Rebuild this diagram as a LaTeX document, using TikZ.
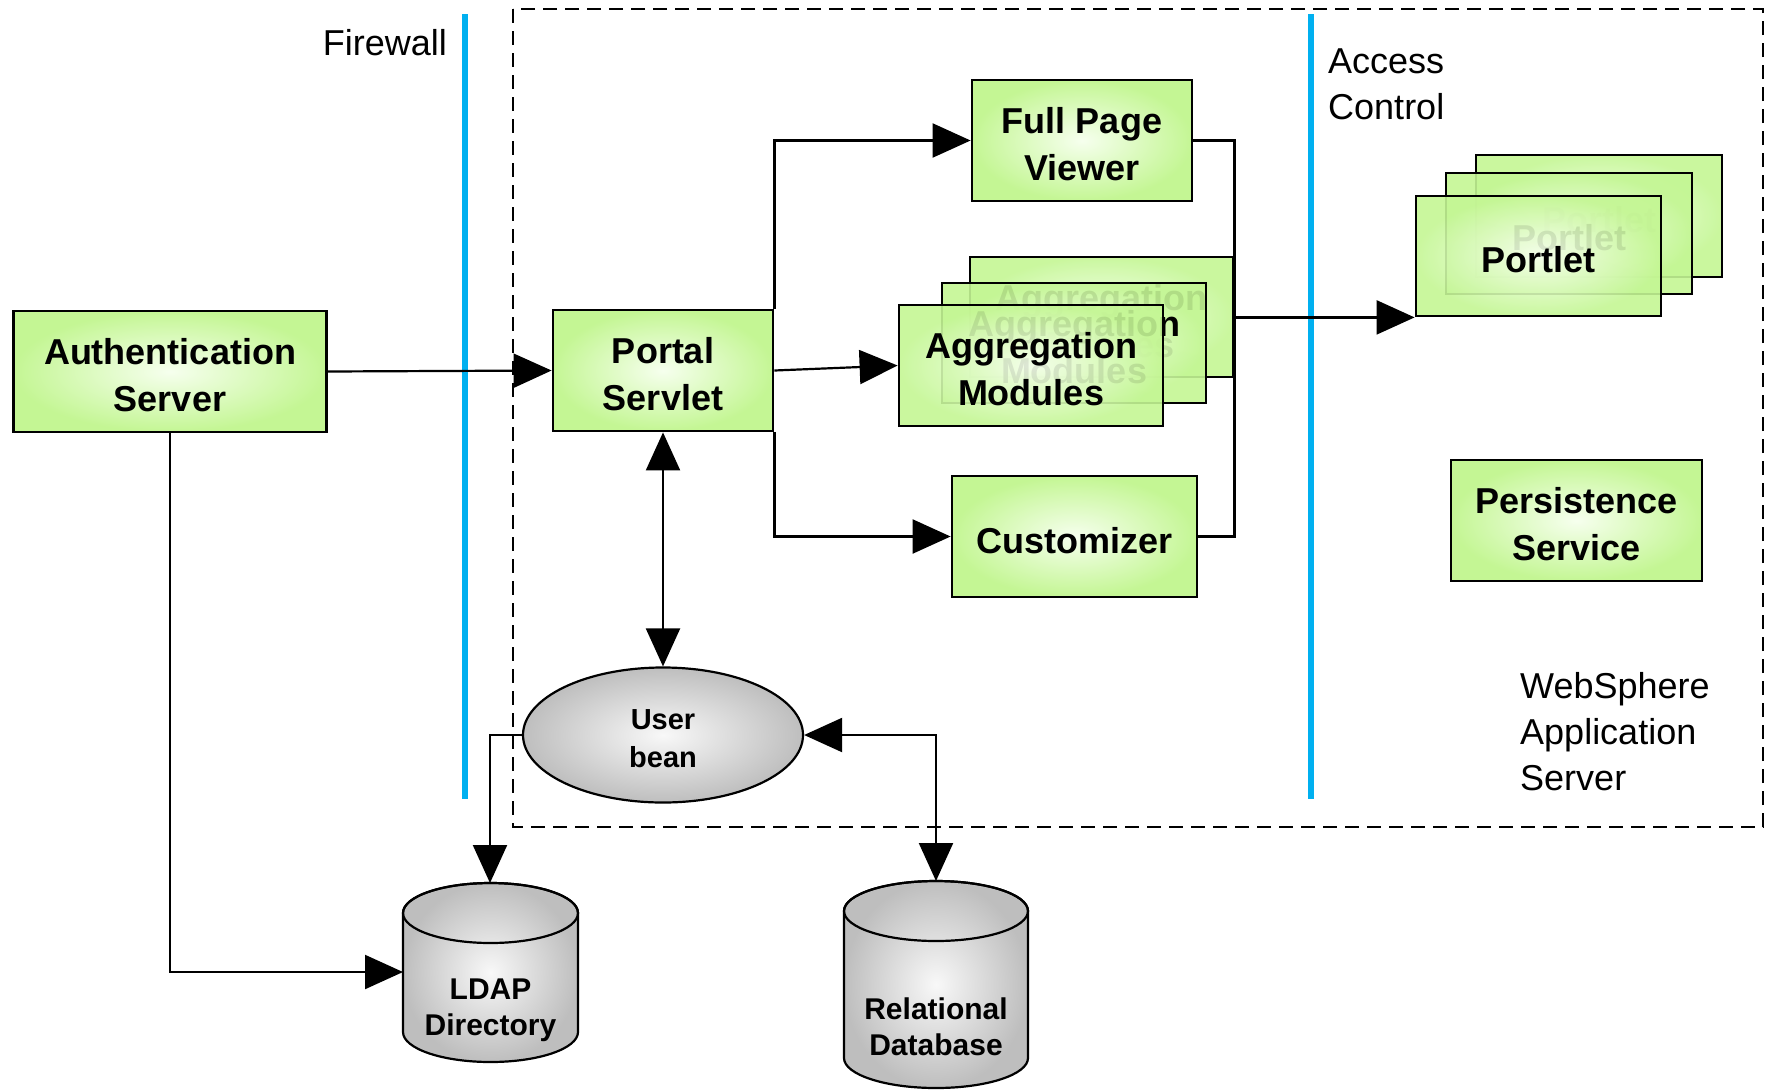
\documentclass[tikz,border=0pt]{standalone}
\usepackage{fontspec}
\setmainfont{Liberation Sans}
\usetikzlibrary{arrows.meta,shapes.geometric,calc}
\definecolor{gout}{RGB}{196,246,148}
\definecolor{gin}{RGB}{246,255,238}
\definecolor{grout}{RGB}{190,190,190}
\definecolor{grin}{RGB}{248,248,248}
\definecolor{fwblue}{RGB}{0,176,240}
\begin{document}
\begin{tikzpicture}[x=1pt,y=-1pt,
  gbox/.style={draw=black,line width=2.8pt,shading=radial,inner color=gin,outer color=gout,inner sep=0pt},
  stackbox/.style={gbox,fill opacity=0.9},
  lbl/.style={inner sep=0pt,align=center,font=\fontsize{36}{47}\selectfont\bfseries},
  conn/.style={line width=2.2pt},
  arr/.style={conn,-{Triangle[length=38pt,width=34pt]}},
  darr/.style={conn,{Triangle[length=38pt,width=34pt]}-{Triangle[length=38pt,width=34pt]}},
  plain/.style={font=\fontsize{36}{46}\selectfont,align=left,inner sep=0pt},
  dbtext/.style={font=\fontsize{30}{36}\selectfont\bfseries,align=center,inner sep=0pt},
  grayshade/.style={shading=radial,inner color=grin,outer color=grout},
  fwline/.style={draw=fwblue,line width=6pt}
]
\useasboundingbox (0,0) rectangle (1769,1090);

% WebSphere container
\draw[line width=2.2pt,dash pattern=on 14pt off 8pt] (513,9) rectangle (1763,827);

% firewall and access control lines
\draw[fwline] (465,14) -- (465,799);
\draw[fwline] (1311,14) -- (1311,799);

\node[plain,anchor=east] (fwlabel) at (447,43) {Firewall};
\node[plain,anchor=west] (aclabel) at (1328,84) {Access\\Control};
\node[plain,anchor=west] (wslabel) at (1520,732) {WebSphere\\Application\\Server};

% boxes
\node[gbox,minimum width=313pt,minimum height=121pt] (as) at (170,371.5) {};
\node[lbl] (asl) at ($(as)+(0,4)$) {Authentication\\Server};
\node[gbox,minimum width=220pt,minimum height=121pt] (ps) at (663,370.5) {};
\node[lbl] (psl) at ($(ps)+(0,4)$) {Portal\\Servlet};
\node[gbox,minimum width=220pt,minimum height=121pt] (fpv) at (1082,140.5) {};
\node[lbl] (fpvl) at ($(fpv)+(0,4)$) {Full Page\\Viewer};
\node[gbox,minimum width=245pt,minimum height=121pt] (cust) at (1074.5,536.5) {};
\node[lbl] (custl) at ($(cust)+(0,4)$) {Customizer};
\node[gbox,minimum width=251pt,minimum height=121pt] (pers) at (1576.5,520.5) {};
\node[lbl] (persl) at ($(pers)+(0,4)$) {Persistence\\Service};

% aggregation stack
\node[stackbox,minimum width=263pt,minimum height=120pt] (aggback) at (1101.5,317) {};
\node[lbl] (aggbackl) at ($(aggback)+(0,4)$) {Aggregation\\Modules};
\node[stackbox,minimum width=264pt,minimum height=120pt] (aggmid) at (1074,343) {};
\node[lbl] (aggmidl) at ($(aggmid)+(0,4)$) {Aggregation\\Modules};
\node[stackbox,minimum width=264pt,minimum height=121pt] (agg) at (1031,365.5) {};
\node[lbl] (aggl) at ($(agg)+(0,4)$) {Aggregation\\Modules};

% portlet stack
\node[stackbox,minimum width=246pt,minimum height=122pt] (pback) at (1599,216) {};
\node[lbl] (pbackl) at ($(pback)+(0,4)$) {Portlet};
\node[stackbox,minimum width=246pt,minimum height=121pt] (pmid) at (1569,233.5) {};
\node[lbl] (pmidl) at ($(pmid)+(0,4)$) {Portlet};
\node[stackbox,minimum width=245pt,minimum height=120pt] (pf) at (1538.5,256) {};
\node[lbl] (pfl) at ($(pf)+(0,4)$) {Portlet};

% user bean
\node[ellipse,draw=black,line width=2.2pt,grayshade,minimum width=280pt,minimum height=135pt,
      inner sep=0pt] (ub) at (663,735) {};
\node[dbtext,font=\fontsize{29}{38}\selectfont\bfseries] (ubtext) at (663,739) {User\\bean};

% LDAP cylinder
\path[grayshade,draw=black,line width=2.2pt] (403,913) -- (403,1032)
   arc[start angle=180,end angle=0,x radius=87.5,y radius=30] -- (578,913)
   arc[start angle=0,end angle=-180,x radius=87.5,y radius=30] -- cycle;
\draw[line width=2.2pt] (490.5,913) ellipse[x radius=87.5,y radius=30];
\node[dbtext] (ldap) at (490.5,1010) {LDAP\\Directory};
\coordinate (ldaptop) at (490,883);
\coordinate (ldapleft) at (403,972);

% Relational database cylinder
\path[grayshade,draw=black,line width=2.2pt] (844,911) -- (844,1058)
   arc[start angle=180,end angle=0,x radius=92,y radius=30] -- (1028,911)
   arc[start angle=0,end angle=-180,x radius=92,y radius=30] -- cycle;
\draw[line width=2.2pt] (936,911) ellipse[x radius=92,y radius=30];
\node[dbtext] (rdb) at (936,1027) {Relational\\Database};
\coordinate (rdbtop) at (936,881);

% connectors
\draw[arr] (as.east) -- (ps.west);
\draw[arr] (as.south) |- (ldapleft);
\draw[arr] (ps.east) -- (agg.west);
\draw[arr] (ps.north east) |- (fpv.west);
\draw[arr] (ps.south east) |- (cust.west);
\draw[conn] (fpv.east) -- (fpv.east -| aggback.east) -- (cust.east -| aggback.east) -- (cust.east);
\draw[arr] (aggback.east |- pf.south west) -- (pf.south west);
\draw[darr] (ps.south) -- (ub.north);
\draw[arr] (ub.west) -- (ub.west -| ldaptop) -- (ldaptop);
\draw[darr] (ub.east) -| (rdbtop);
\end{tikzpicture}
\end{document}
